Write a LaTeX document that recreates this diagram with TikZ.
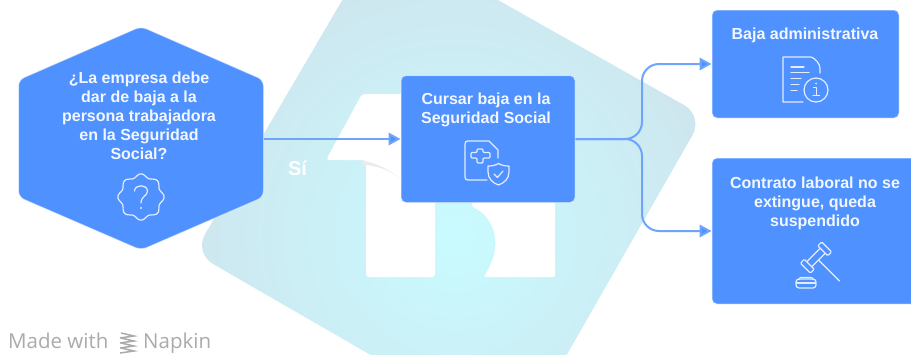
\documentclass[tikz,border=0pt]{standalone}
\usepackage{fontspec}
\setmainfont{Liberation Sans}
\newfontfamily\footfont{Open Sans}
\definecolor{boxblue}{HTML}{4F91FF}
\definecolor{linkblue}{HTML}{6EA5FB}
\definecolor{iconwhite}{HTML}{E4EDFF}
\definecolor{softwhite}{HTML}{F2F7FF}
\definecolor{footgray}{HTML}{ABABAB}
\definecolor{tilein}{HTML}{C8FBFF}
\definecolor{tileout}{HTML}{D3D6E2}
\usetikzlibrary{arrows.meta}
\tikzset{
  blue box/.style={fill=boxblue,draw=white,draw opacity=.45,line width=1pt,rounded corners=5pt,inner sep=0pt,minimum width=#1},
  hexanchor/.style={inner sep=0pt,minimum width=245pt,minimum height=222pt},
  boxtext/.style={text=softwhite,align=center,inner sep=0pt,font=\bfseries\fontsize{16}{19}\selectfont},
  conn/.style={draw=linkblue,line width=2pt,-{Triangle[length=12pt,width=12.5pt,fill=boxblue]}},
  iconline/.style={draw=iconwhite,line width=1.2pt,line join=round,line cap=round},
  foot/.style={text=footgray,inner sep=0pt,anchor=base west,font=\footfont\fontsize{20.5}{22}\selectfont}
}
\begin{document}
\begin{tikzpicture}[x=1pt,y=-1pt]
\useasboundingbox (0,0) rectangle (911,354);
\fill[white] (0,0) rectangle (911,354);
\begin{scope}
  \clip (0,0) rectangle (911,354);
  % background tile
  \begin{scope}
    \clip[rounded corners=22pt] (381,-66) -- (703.4,116) -- (518,440) -- (194,253) -- cycle;
    \shade[inner color=tilein,outer color=tileout] (455,235) circle (470pt);
  \end{scope}
  % white logo
  \fill[white,rounded corners=3pt] (362,94) -- (326,160) -- (366,160) -- (366,277) -- (435,277) -- (435,180) -- (420,94) -- cycle;
  \fill[white,rounded corners=2pt] (472,200) -- (472,207) .. controls (490,214) and (506,240) .. (485,275) -- (484,277) -- (555,277) -- (555,200) -- cycle;
  \fill[black!8] (360,160) .. controls (375,162) and (390,170) .. (402,180) .. controls (390,170) and (378,166) .. (365,165) -- (362,163) -- cycle;
\end{scope}

% nodes
\path[fill=boxblue,draw=white,draw opacity=.45,line width=1pt,rounded corners=6pt] (141,26.5) -- (263.5,80) -- (263.5,197) -- (141,250) -- (18.5,197) -- (18.5,80) -- cycle;
\node[hexanchor] (hex) at (141,139) {};
\node[blue box=174pt,minimum height=127pt] (mid) at (488,139) {};
\node[blue box=187pt,minimum height=108pt] (admin) at (805.5,64) {};
\node[blue box=210pt,minimum height=146pt] (contrato) at (817,231) {};

\node[boxtext] (hext) at (139,116) {¿La empresa debe\\dar de baja a la\\persona trabajadora\\en la Seguridad\\Social?};
\node[boxtext] (midt) at (486,110) {Cursar baja en la\\Seguridad Social};
\node[boxtext] (admt) at (805,35.5) {Baja administrativa};
\node[boxtext] (cont) at (815,203) {Contrato laboral no se\\extingue, queda\\suspendido};
\node[boxtext,text=white,font=\bfseries\fontsize{20}{22}\selectfont] (si) at (297.5,168) {Sí};

% connectors
\coordinate (split) at (642,139);
\draw[conn] (hex.east) -- (mid.west);
\draw[conn,rounded corners=17pt] (mid.east) -- (split) |- (admin.west);
\draw[conn,rounded corners=17pt] (mid.east) -- (split) |- (contrato.west);

% question badge
\draw[iconline] plot[domain=0:360,samples=145,smooth] ({141+(21.5+1.6*cos(8*\x))*cos(\x)},{197+(21.5+1.6*cos(8*\x))*sin(\x)}) -- cycle;
\draw[iconline] (134.5,191) .. controls (135,184) and (147,184) .. (147.5,191) .. controls (147.5,196) and (141,196) .. (141,203);
\fill[iconwhite] (141,208) circle (1.1pt);

% document + shield
\draw[iconline] (487,180) -- (468,180) .. controls (466,180) and (465,179) .. (465,177) -- (465,144) .. controls (465,142) and (466,141) .. (468,141) -- (489,141) -- (498,150) -- (498,158);
\draw[iconline,rounded corners=1pt] (477,149) -- (483,149) -- (483,152.5) -- (490,152.5) -- (490,158) -- (483,158) -- (483,163) -- (477,163) -- (477,158) -- (471,158) -- (471,152.5) -- (477,152.5) -- cycle;
\draw[iconline] (498.5,163.5) .. controls (502,165.5) and (505,166) .. (509,166) -- (509,172) .. controls (509,179) and (504,183) .. (498.5,185) .. controls (493,183) and (488,179) .. (488,172) -- (488,166) .. controls (492,166) and (495,165.5) .. (498.5,163.5) -- cycle;
\draw[iconline] (494,174) -- (497.5,177.5) -- (503,171);

% document + info
\draw[iconline] (803,102) -- (783,102) -- (783,57) -- (811,57) .. controls (815,58) and (820,64) .. (820,68) -- (820,73);
\draw[iconline] (791,67) -- (804,67) (791,72.5) -- (809,72.5) (791,78.5) -- (801,78.5) (791,84.5) -- (799,84.5) (791,90.5) -- (797,90.5);
\draw[iconline] (816,90) circle (12pt);
\draw[iconline] (813.5,87.5) -- (816.3,87.5) -- (816.3,95.5) (813,95.5) -- (819.5,95.5);
\fill[iconwhite] (816,83.5) circle (1pt);

% gavel
\begin{scope}[shift={(816,257.5)},rotate=45]
  \draw[iconline,rounded corners=1pt] (-15,-7) rectangle (-9.5,7);
  \draw[iconline,rounded corners=1pt] (9.5,-7) rectangle (15,7);
  \draw[iconline] (-9.5,-3.5) -- (9.5,-3.5) (-9.5,3.5) -- (9.5,3.5);
  \draw[iconline] (0,3.5) -- (0,33);
\end{scope}
\draw[iconline,rounded corners=3pt] (796,288) rectangle (816,279);
\draw[iconline] (796.5,283) -- (815.5,283);
\draw[iconline,rounded corners=2pt] (799,279) -- (799,277.5) -- (813,277.5) -- (813,279);

% footer
\node[foot] (made) at (8,348.5) {Made with};
\node[foot] (napkin) at (143,348.5) {Napkin};
\foreach \yy in {335,340,345,350}
  \draw[footgray,line width=1.5pt] (121,\yy-2) -- (134,\yy+1) -- (120,\yy+3);
\end{tikzpicture}
\end{document}
